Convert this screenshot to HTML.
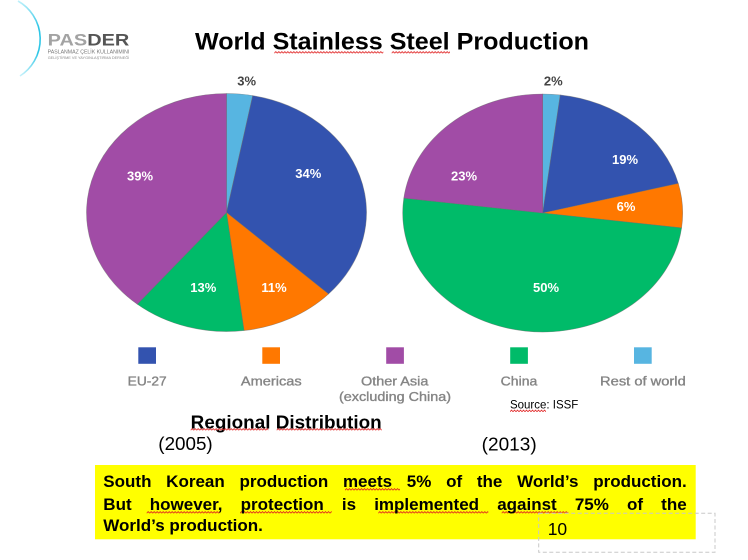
<!DOCTYPE html>
<html><head><meta charset="utf-8">
<style>
html,body{margin:0;padding:0;background:#fff;}
body{width:748px;height:560px;position:relative;overflow:hidden;font-family:"Liberation Sans",Arial,sans-serif;}
svg{position:absolute;left:0;top:0;}
.ln{position:absolute;left:103.3px;width:583.4px;font-weight:bold;font-size:17px;line-height:17px;color:#000;white-space:nowrap;text-align:justify;text-align-last:justify;}
</style></head>
<body>
<svg width="748" height="560" viewBox="0 0 748 560" xmlns="http://www.w3.org/2000/svg">
<defs>
<pattern id="sq" width="3" height="3" patternUnits="userSpaceOnUse">
<path d="M0 2.2 L1.5 0.6 L3 2.2" fill="none" stroke="#e02020" stroke-width="0.8"/>
</pattern>
<linearGradient id="arcg" x1="0" y1="0" x2="0" y2="1">
<stop offset="0" stop-color="#bff0fa"/>
<stop offset="0.35" stop-color="#2ec6e6"/>
<stop offset="0.7" stop-color="#2ec6e6"/>
<stop offset="1" stop-color="#c8f2fb"/>
</linearGradient>
</defs>

<!-- Logo -->
<path d="M18 1 A43.8 43.8 0 0 1 20 76" fill="none" stroke="url(#arcg)" stroke-width="1.6"/>
<text x="47.7" y="45.7" font-family="Liberation Sans, sans-serif" font-weight="bold" font-size="17" textLength="81.6" lengthAdjust="spacingAndGlyphs"><tspan fill="#a3a3a3">PAS</tspan><tspan fill="#555">DER</tspan></text>
<text x="47.7" y="53.3" font-family="Liberation Sans, sans-serif" font-size="5" fill="#777" textLength="81.6" lengthAdjust="spacingAndGlyphs">PASLANMAZ ÇELİK KULLANIMINI</text>
<text x="47.7" y="59" font-family="Liberation Sans, sans-serif" font-size="4" fill="#8a8a8a" textLength="81.6" lengthAdjust="spacingAndGlyphs">GELİŞTİRME VE YAYGINLAŞTIRMA DERNEĞİ</text>

<!-- Title -->
<text x="195" y="49.3" font-family="Liberation Sans, sans-serif" font-weight="bold" font-size="24.5" fill="#000" textLength="394" lengthAdjust="spacingAndGlyphs">World Stainless Steel Production</text>
<rect transform="translate(274.3,51)" width="109" height="3" fill="url(#sq)"/>
<rect transform="translate(391.7,51)" width="58.3" height="3" fill="url(#sq)"/>

<!-- Pie 2005 -->
<g stroke="#6a6a6a" stroke-width="0.6" stroke-opacity="0.6">
<path d="M226.5 212.5 L226.5 93.5 A140 119 0 0 1 252.73 95.61 Z" fill="#57B5E1"/>
<path d="M226.5 212.5 L252.73 95.61 A140 119 0 0 1 328.56 293.96 Z" fill="#3353AF"/>
<path d="M226.5 212.5 L328.56 293.96 A140 119 0 0 1 244.05 330.56 Z" fill="#FF7800"/>
<path d="M226.5 212.5 L244.05 330.56 A140 119 0 0 1 137.26 304.19 Z" fill="#00BB69"/>
<path d="M226.5 212.5 L137.26 304.19 A140 119 0 0 1 226.5 93.5 Z" fill="#A14CA6"/>
</g>
<g font-family="Liberation Sans, sans-serif" font-weight="bold" font-size="13" text-anchor="middle" fill="#fff">
<text x="308.3" y="177.8">34%</text>
<text x="140" y="180.5">39%</text>
<text x="203.3" y="291.8">13%</text>
<text x="274" y="291.8">11%</text>
<text x="246.7" y="85.7" fill="#444">3%</text>
</g>

<!-- Pie 2013 -->
<g stroke="#6a6a6a" stroke-width="0.6" stroke-opacity="0.6">
<path d="M542.7 213 L542.7 94 A140 119 0 0 1 560.25 94.94 Z" fill="#57B5E1"/>
<path d="M542.7 213 L560.25 94.94 A140 119 0 0 1 678.3 183.41 Z" fill="#3353AF"/>
<path d="M542.7 213 L678.3 183.41 A140 119 0 0 1 681.6 227.91 Z" fill="#FF7800"/>
<path d="M542.7 213 L681.6 227.91 A140 119 0 1 1 403.8 198.09 Z" fill="#00BB69"/>
<path d="M542.7 213 L403.8 198.09 A140 119 0 0 1 542.7 94 Z" fill="#A14CA6"/>
</g>
<g font-family="Liberation Sans, sans-serif" font-weight="bold" font-size="13" text-anchor="middle" fill="#fff">
<text x="625" y="163.8">19%</text>
<text x="464" y="180.5">23%</text>
<text x="626" y="211.2">6%</text>
<text x="546" y="291.8">50%</text>
<text x="553.3" y="85.7" fill="#444">2%</text>
</g>

<!-- Legend -->
<rect x="138.3" y="347.3" width="17.7" height="16.5" fill="#3353AF"/>
<rect x="262.3" y="347.3" width="17.7" height="16.5" fill="#FF7800"/>
<rect x="386.2" y="347.3" width="17.7" height="16.5" fill="#A14CA6"/>
<rect x="510.2" y="347.3" width="17.7" height="16.5" fill="#00BB69"/>
<rect x="634" y="347.3" width="17.7" height="16.5" fill="#57B5E1"/>
<g font-family="Liberation Sans, sans-serif" font-size="12.5" fill="#858585" stroke="#858585" stroke-width="0.35" text-anchor="middle">
<text x="147.2" y="385.7" textLength="39" lengthAdjust="spacingAndGlyphs">EU-27</text>
<text x="271.3" y="385.7" textLength="60.7" lengthAdjust="spacingAndGlyphs">Americas</text>
<text x="394.7" y="385.7" textLength="67.4" lengthAdjust="spacingAndGlyphs">Other Asia</text>
<text x="395" y="401" textLength="112" lengthAdjust="spacingAndGlyphs">(excluding China)</text>
<text x="519" y="385.7" textLength="36.6" lengthAdjust="spacingAndGlyphs">China</text>
<text x="642.9" y="385.7" textLength="85.7" lengthAdjust="spacingAndGlyphs">Rest of world</text>
</g>

<!-- Source -->
<text x="510" y="408.3" font-family="Liberation Sans, sans-serif" font-size="12" fill="#000" textLength="68.3" lengthAdjust="spacingAndGlyphs">Source: ISSF</text>
<rect transform="translate(510,409.5)" width="36" height="3" fill="url(#sq)"/>

<!-- Regional Distribution -->
<text x="190.7" y="428.3" font-family="Liberation Sans, sans-serif" font-weight="bold" font-size="18.5" fill="#000" textLength="191" lengthAdjust="spacingAndGlyphs">Regional Distribution</text>
<rect transform="translate(190.7,428)" width="77.6" height="3" fill="url(#sq)"/>
<rect transform="translate(276.7,428)" width="105" height="3" fill="url(#sq)"/>
<text x="158.3" y="450" font-family="Liberation Sans, sans-serif" font-size="18" fill="#000" textLength="54.4" lengthAdjust="spacingAndGlyphs">(2005)</text>
<text x="481.7" y="450.7" font-family="Liberation Sans, sans-serif" font-size="18" fill="#000" textLength="55" lengthAdjust="spacingAndGlyphs">(2013)</text>

<!-- Yellow box -->
<rect x="95" y="465" width="600.7" height="74.3" fill="#FFFF00"/>
<rect transform="translate(345,488)" width="55" height="3" fill="url(#sq)"/>
<rect transform="translate(146.7,511)" width="73.3" height="3" fill="url(#sq)"/>
<rect transform="translate(240,511)" width="91.7" height="3" fill="url(#sq)"/>
<rect transform="translate(378.3,511)" width="110" height="3" fill="url(#sq)"/>
<rect transform="translate(501.7,511)" width="66.6" height="3" fill="url(#sq)"/>

<!-- page number box -->
<rect x="538.7" y="513.3" width="176.3" height="39" fill="none" stroke="#c8c8c8" stroke-width="1" stroke-dasharray="4 2.5"/>
<text x="547.7" y="535" font-family="Liberation Sans, sans-serif" font-size="17.5" fill="#000">10</text>
</svg>

<div class="ln" style="top:472.9px;">South Korean production meets 5% of the World’s production.</div>
<div class="ln" style="top:495.6px;">But however, protection is implemented against 75% of the</div>
<div class="ln" style="top:517.3px;text-align:left;text-align-last:left;">World’s production.</div>
</body></html>
